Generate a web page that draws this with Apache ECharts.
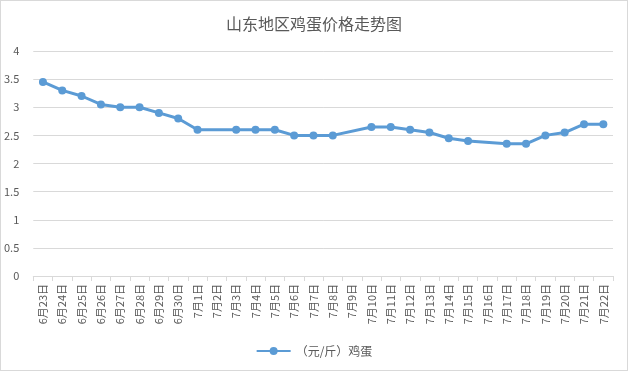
<!DOCTYPE html>
<html><head><meta charset="utf-8">
<script src="https://cdn.jsdelivr.net/npm/echarts@6/dist/echarts.min.js"></script>
<style>html,body{margin:0;padding:0;background:#fff}#c{width:626px;height:369px;border:1px solid #d9d9d9}</style>
</head><body><div id="c"></div>
<script>
var categories = ['6月23日','6月24日','6月25日','6月26日','6月27日','6月28日','6月29日','6月30日','7月1日','7月2日','7月3日','7月4日','7月5日','7月6日','7月7日','7月8日','7月9日','7月10日','7月11日','7月12日','7月13日','7月14日','7月15日','7月16日','7月17日','7月18日','7月19日','7月20日','7月21日','7月22日'];
var prices = [3.45,3.3,3.2,3.05,3.0,3.0,2.9,2.8,2.6,null,2.6,2.6,2.6,2.5,2.5,2.5,null,2.65,2.65,2.6,2.55,2.45,2.4,null,2.35,2.35,2.5,2.55,2.7,2.7];
var seriesName = '（元/斤）鸡蛋';
var font = '"Noto Sans CJK SC", "Microsoft YaHei", sans-serif';
var chart = echarts.init(document.getElementById('c'));
chart.setOption({
  animation: false,
  textStyle: {fontFamily: font},
  title: {text: '山东地区鸡蛋价格走势图', left: 'center', top: 10, textStyle: {fontFamily: font, fontSize: 16, fontWeight: 'normal', color: '#595959'}},
  grid: {left: 32, right: 14, top: 50, bottom: 94, containLabel: false},
  legend: {bottom: 8, left: 'center', itemWidth: 34, itemHeight: 10, textStyle: {fontFamily: font, fontSize: 12, color: '#595959'}, data: [seriesName]},
  xAxis: {type: 'category', data: categories, boundaryGap: true,
    axisLine: {lineStyle: {color: '#d9d9d9'}},
    axisTick: {show: true, alignWithLabel: false, length: 5, lineStyle: {color: '#d9d9d9'}},
    axisLabel: {interval: 0, rotate: 90, fontSize: 11, color: '#595959', fontFamily: font, margin: 8}},
  yAxis: {type: 'value', min: 0, max: 4, interval: 0.5,
    axisLine: {show: false}, axisTick: {show: false},
    splitLine: {lineStyle: {color: '#d9d9d9'}},
    axisLabel: {fontSize: 11, color: '#595959', fontFamily: font, margin: 14}},
  series: [{name: seriesName, type: 'line', data: prices, connectNulls: true,
    symbol: 'circle', symbolSize: 8,
    lineStyle: {color: '#5b9bd5', width: 3},
    itemStyle: {color: '#5b9bd5'}}]
});
</script></body></html>
